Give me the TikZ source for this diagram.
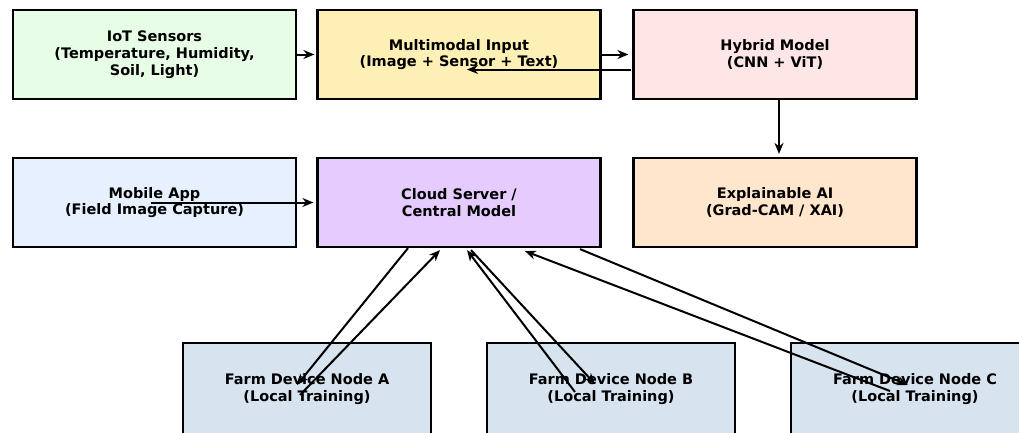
\documentclass[tikz,border=0pt]{standalone}
\usepackage{fontspec}
\setmainfont{DejaVu Sans}
\usetikzlibrary{arrows.meta}
\begin{document}
\begin{tikzpicture}[x=1pt,y=-1pt,
  box/.style={draw=black, line width=2.2pt, minimum width=283pt, minimum height=89pt,
    align=center, inner sep=0pt, font=\bfseries\fontsize{14.5}{16.8}\selectfont},
  fbox/.style={box, minimum width=248pt, minimum height=92pt},
  arr/.style={-{Stealth[length=11pt,width=9pt]}, line width=2pt, black}]
\useasboundingbox (0,0) rectangle (1019,432);
\definecolor{cIoT}{HTML}{E8FDE6}
\definecolor{cMM}{HTML}{FEF0B4}
\definecolor{cHy}{HTML}{FFE6E6}
\definecolor{cMob}{HTML}{E6F0FE}
\definecolor{cCl}{HTML}{E6CCFE}
\definecolor{cXai}{HTML}{FFE6CC}
\definecolor{cFarm}{HTML}{D7E3EF}
\begin{scope}
\clip (0,0) rectangle (1019,432);
\node[box, fill=cIoT] (iot) at (154.5,54.5) {IoT Sensors\\(Temperature, Humidity,\\Soil, Light)};
\node[box, fill=cMM] (mm) at (459,54.5) {Multimodal Input\\(Image + Sensor + Text)};
\node[box, fill=cHy] (hy) at (775,54.5) {Hybrid Model\\(CNN + ViT)};
\node[box, fill=cMob] (mob) at (154.5,202.5) {Mobile App\\(Field Image Capture)};
\node[box, fill=cCl] (cl) at (459,202.5) {Cloud Server /\\Central Model};
\node[box, fill=cXai] (xai) at (775,202.5) {Explainable AI\\(Grad-CAM / XAI)};
\node[fbox, fill=cFarm] (fa) at (307,389) {Farm Device Node A\\(Local Training)};
\node[fbox, fill=cFarm] (fb) at (611,389) {Farm Device Node B\\(Local Training)};
\node[fbox, fill=cFarm] (fc) at (915,389) {Farm Device Node C\\(Local Training)};
\end{scope}
% top row arrows
\draw[arr] (iot.east) -- ([xshift=-2pt]mm.west);
\draw[arr] (mm.east) -- ([xshift=-4pt]hy.west);
\draw[arr] ([xshift=-1pt,yshift=-15pt]hy.west) -- ([xshift=8pt,yshift=-15pt]mm.center);
\draw[arr] ([xshift=4pt]hy.south) -- ([xshift=4pt,yshift=3pt]xai.north);
\draw[arr] ([xshift=-4pt]mob.center) -- ([xshift=-3pt]cl.west);
% federated arrows
\draw[arr] ([xshift=-51pt]cl.south) -- ([xshift=-10pt,yshift=4pt]fa.center);
\draw[arr] ([xshift=-7pt,yshift=-6pt]fa.center) -- ([xshift=-19pt,yshift=-2pt]cl.south);
\draw[arr] ([xshift=-36pt,yshift=-3pt]fb.center) -- ([xshift=8pt,yshift=-2pt]cl.south);
\draw[arr] ([xshift=12pt,yshift=-2pt]cl.south) -- ([xshift=-16pt,yshift=5pt]fb.center);
\draw[arr] ([xshift=-25pt,yshift=-2pt]fc.center) -- ([xshift=66pt,yshift=-3pt]cl.south);
\draw[arr] ([xshift=121pt,yshift=-1pt]cl.south) -- ([xshift=-7pt,yshift=4pt]fc.center);
\end{tikzpicture}
\end{document}
